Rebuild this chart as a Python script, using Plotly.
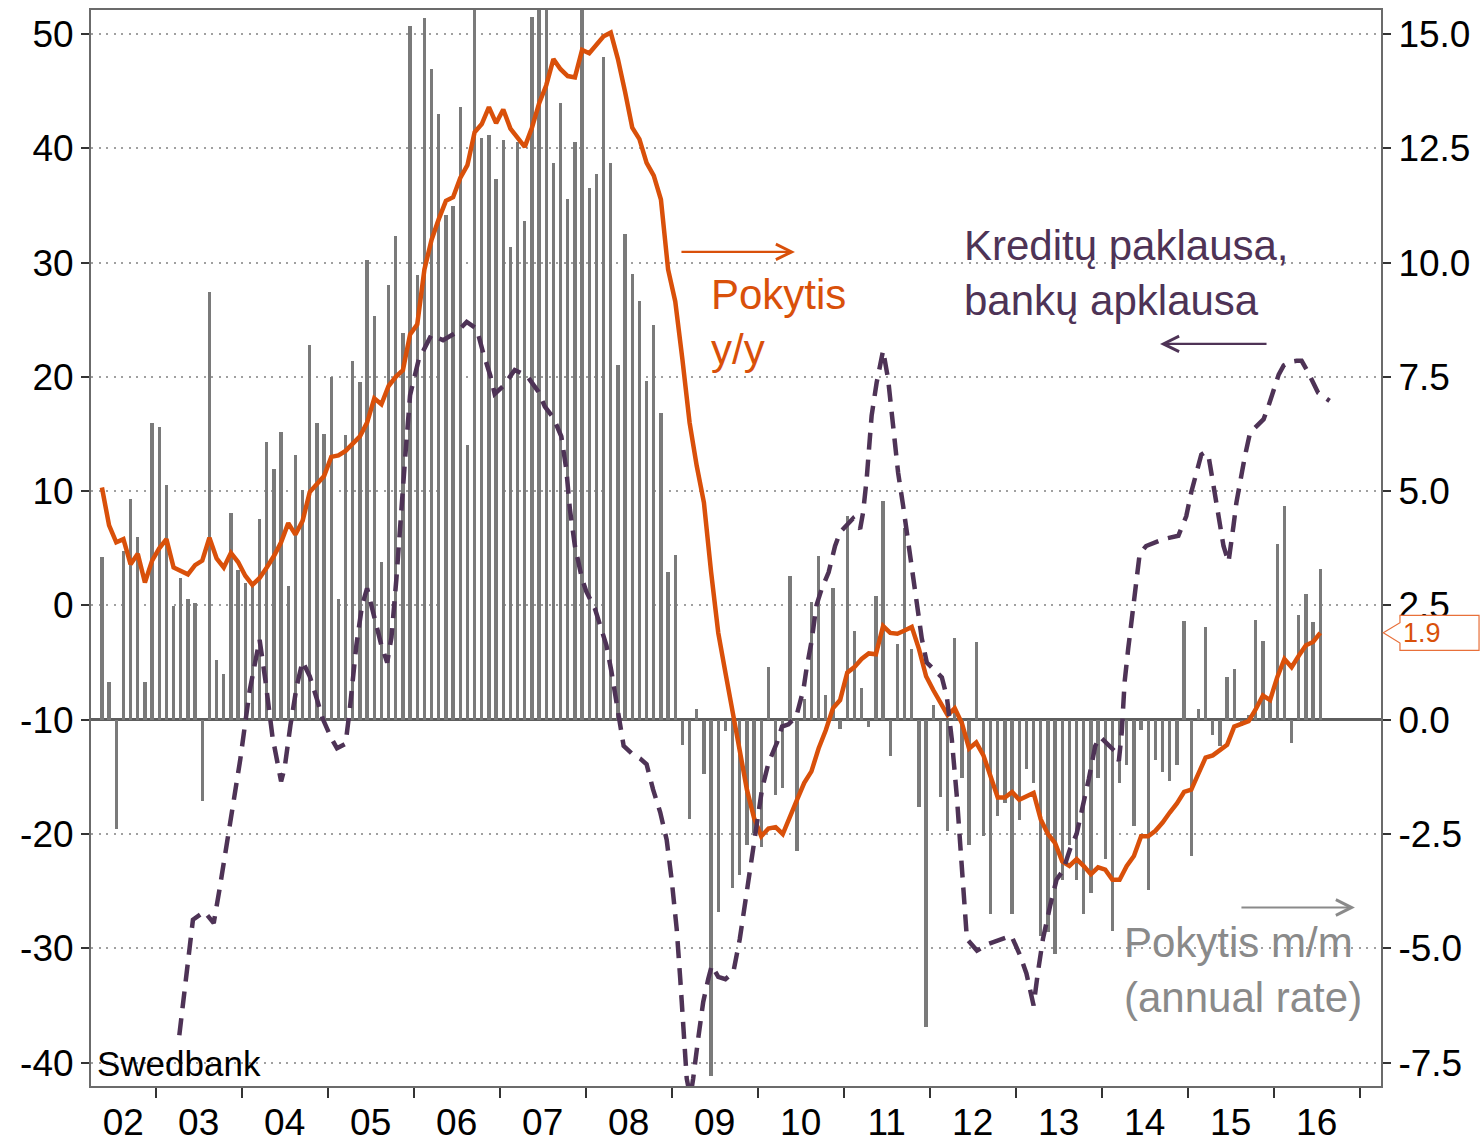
import plotly.graph_objects as go

# ---------------- data ----------------
# monthly series start in May 2002 (index 0) and end in July 2016
START_YEAR = 2002
START_MONTH = 4  # May, 0-based

# Pokytis m/m (annual rate), right axis, %
mm_rate = [
    3.55, 0.83, -2.38, 3.70, 4.83, 4.00, 0.83, 6.48, 6.40, 5.13,
    2.48, 3.10, 2.65, 2.55, -1.78, 9.35, 1.30, 1.00, 4.53, 3.28,
    3.00, 2.95, 4.40, 6.08, 5.48, 6.30, 2.93, 5.78, 5.03, 8.20,
    6.50, 6.25, 7.50, 2.63, 6.23, 7.85, 7.38, 10.05, 8.83, 3.45,
    9.50, 10.58, 8.45, 15.18, 9.73, 15.35, 14.23, 13.25, 11.05, 11.23,
    13.40, 6.00, 16.50, 12.73, 12.80, 11.83, 12.68, 10.35, 12.63, 10.90,
    15.38, 17.20, 16.00, 12.18, 13.48, 11.40, 12.63, 15.90, 11.63, 11.93,
    14.50, 12.18, 7.75, 10.63, 9.75, 9.15, 7.40, 8.63, 6.70, 3.23,
    3.60, -0.55, -2.18, 0.23, -1.18, -7.80, -4.20, -0.25, -3.68, -3.40,
    -2.73, -2.48, -2.78, 1.15, -1.65, -1.50, 3.15, -2.88, 0.45, 2.58,
    3.58, 0.55, 2.88, -0.20, 4.45, 1.95, 0.70, -0.15, 2.70, 4.78,
    -0.80, 1.65, 4.20, 1.55, -1.90, -6.73, 0.33, -1.68, -2.43, 1.78,
    -1.28, -2.75, 1.70, -2.55, -4.25, -2.10, -1.83, -4.25, -2.20, -1.08,
    -1.38, -4.73, -4.65, -5.13, -3.50, -2.75, -3.50, -4.25, -3.78, -1.28,
    -3.05, -4.63, -1.38, -0.98, -2.33, -0.23, -3.73, -0.88, -1.15, -1.35,
    -1.00, 2.15, -2.98, 0.23, 2.03, -0.33, -0.58, 0.93, 1.10, -0.13,
    0.10, 2.18, 1.73, 0.45, 3.85, 4.68, -0.50, 2.28, 2.75, 2.13,
    3.30,
]

# Pokytis y/y, right axis, %
yy_change = [
    5.08, 4.25, 3.88, 3.95, 3.40, 3.63, 3.00, 3.48, 3.75, 3.95,
    3.33, 3.25, 3.18, 3.38, 3.48, 3.98, 3.53, 3.33, 3.65, 3.45,
    3.15, 2.95, 3.10, 3.33, 3.58, 3.88, 4.30, 4.05, 4.35, 4.98,
    5.15, 5.33, 5.75, 5.78, 5.88, 6.05, 6.20, 6.50, 7.03, 6.90,
    7.30, 7.50, 7.65, 8.43, 8.65, 9.85, 10.50, 10.95, 11.35, 11.43,
    11.85, 12.13, 12.85, 13.03, 13.40, 13.05, 13.35, 12.93, 12.73, 12.53,
    12.95, 13.48, 13.88, 14.45, 14.23, 14.08, 14.05, 14.65, 14.58, 14.78,
    14.95, 15.03, 14.45, 13.73, 12.95, 12.70, 12.18, 11.90, 11.38, 9.85,
    9.15, 7.88, 6.50, 5.55, 4.75, 3.23, 1.90, 1.03, 0.15, -0.73,
    -1.53, -2.15, -2.55, -2.38, -2.35, -2.50, -2.10, -1.75, -1.38, -1.13,
    -0.63, -0.23, 0.25, 0.43, 1.03, 1.15, 1.33, 1.45, 1.43, 2.05,
    1.90, 1.88, 1.95, 2.03, 1.55, 0.95, 0.65, 0.38, 0.10, 0.25,
    -0.08, -0.63, -0.50, -0.78, -1.23, -1.70, -1.70, -1.58, -1.75, -1.68,
    -1.60, -2.18, -2.50, -2.70, -3.10, -3.20, -3.05, -3.20, -3.38, -3.23,
    -3.28, -3.50, -3.50, -3.20, -2.98, -2.55, -2.55, -2.43, -2.25, -2.03,
    -1.83, -1.58, -1.53, -1.18, -0.83, -0.78, -0.65, -0.55, -0.15, -0.08,
    -0.03, 0.23, 0.53, 0.43, 0.93, 1.33, 1.15, 1.40, 1.63, 1.70,
    1.90,
]

# Kreditų paklausa, bankų apklausa (left axis); position in months after May 2002
credit_month = [
    10.8, 12.7, 14.3, 15.6, 16.5, 17.7, 19.3, 20.6, 21.5, 22.0,
    22.8, 23.8, 25.0, 25.5, 26.3, 27.2, 28.0, 29.0, 30.0, 30.8,
    32.0, 32.8, 34.0, 34.6, 35.5, 36.3, 37.0, 38.0, 39.0, 39.8,
    40.4, 41.1, 41.6, 42.3, 43.0, 44.2, 45.1, 46.0, 47.6, 49.5,
    50.9, 52.3, 53.2, 54.2, 54.8, 56.0, 57.6, 59.3, 60.9, 61.8,
    63.0, 64.1, 64.8, 65.3, 66.0, 67.0, 67.6, 68.8, 69.5, 70.4,
    71.1, 71.6, 72.1, 72.8, 74.0, 75.1, 76.0, 76.9, 77.9, 78.8,
    79.5, 80.2, 80.7, 81.1, 81.6, 82.1, 82.5, 83.2, 83.9, 84.6,
    85.1, 86.0, 87.0, 88.1, 89.0, 89.9, 90.9, 92.1, 93.0, 94.2,
    94.9, 95.8, 96.9, 97.9, 98.3, 99.0, 99.7, 100.4, 101.4, 102.3,
    103.0, 103.9, 104.8, 105.8, 106.2, 106.7, 107.4, 108.1, 109.0, 109.7,
    110.4, 111.1, 111.8, 112.3, 113.0, 113.7, 114.4, 115.1, 116.0, 117.2,
    117.9, 118.6, 119.3, 119.7, 120.1, 120.7, 122.1, 123.8, 126.9, 128.1,
    129.0, 130.0, 130.6, 131.3, 132.3, 133.2, 134.1, 135.1, 136.0, 136.7,
    137.7, 138.6, 139.3, 141.4, 141.9, 142.3, 142.7, 143.2, 143.7, 144.4,
    144.8, 145.7, 148.1, 150.2, 151.3, 152.0, 152.8, 153.4, 153.9, 154.4,
    155.1, 155.8, 156.5, 157.2, 157.4, 157.9, 158.3, 158.8, 159.5, 160.2,
    161.2, 162.1, 162.8, 163.5, 164.2, 164.9, 165.8, 166.7, 167.4, 168.3,
    169.7, 171.3,
]
credit_demand = [
    -37.6, -27.5, -26.8, -27.8, -24.5, -20.0, -13.5, -7.5, -4.5, -3.0,
    -6.5, -11.5, -15.4, -14.2, -10.5, -7.0, -4.9, -6.2, -8.2, -9.9,
    -11.6, -12.5, -12.1, -9.0, -3.5, 0.0, 1.5, -1.0, -3.5, -5.0,
    -2.8, 2.4, 7.0, 12.8, 18.4, 21.5, 22.6, 23.7, 23.2, 23.9,
    24.8, 24.2, 22.1, 20.1, 18.5, 19.2, 20.6, 20.1, 18.7, 17.4,
    16.4, 14.8, 11.9, 8.4, 5.2, 2.3, 1.2, -0.3, -1.7, -3.5,
    -5.8, -7.6, -9.9, -12.3, -13.0, -13.4, -13.9, -16.1, -18.1, -20.5,
    -24.0, -28.3, -32.7, -37.0, -41.4, -43.0, -41.4, -37.9, -34.7, -32.7,
    -31.5, -32.5, -32.7, -32.1, -29.2, -25.4, -21.0, -16.1, -13.8, -12.0,
    -10.6, -10.4, -9.7, -7.3, -5.6, -3.2, 0.0, 1.4, 2.9, 5.2,
    6.4, 7.0, 7.6, 6.7, 8.1, 11.0, 16.6, 19.5, 22.3, 19.8,
    15.7, 11.6, 8.7, 6.4, 3.5, 0.6, -2.9, -5.0, -5.6, -6.3,
    -8.0, -11.8, -16.8, -20.7, -24.5, -29.2, -30.2, -29.6, -28.9, -30.6,
    -32.2, -35.0, -32.1, -29.2, -26.3, -24.0, -23.2, -21.3, -20.0, -18.1,
    -15.2, -12.3, -11.5, -12.8, -13.6, -11.1, -6.7, -3.8, -1.2, 2.3,
    4.5, 5.2, 5.8, 6.1, 7.8, 9.9, 11.9, 13.2, 13.4, 13.1,
    10.5, 7.8, 5.2, 3.8, 4.6, 7.0, 9.0, 10.8, 13.1, 15.1,
    15.7, 16.3, 17.5, 18.9, 20.2, 21.0, 21.3, 21.4, 21.4, 20.4,
    18.6, 17.9,
]

year_labels = ["02", "03", "04", "05", "06", "07", "08", "09",
               "10", "11", "12", "13", "14", "15", "16"]
left_ticks = [-40, -30, -20, -10, 0, 10, 20, 30, 40, 50]
left_ticktext = ["-40", "-30", "-20", "-10", "0", "10", "20", "30", "40", "50"]
right_ticks = [-7.5, -5.0, -2.5, 0.0, 2.5, 5.0, 7.5, 10.0, 12.5, 15.0]
right_ticktext = ["-7.5", "-5.0", "-2.5", "0.0", "2.5", "5.0", "7.5", "10.0", "12.5", "15.0"]

# ---------------- styling ----------------
ORANGE = "#D9500A"
PURPLE = "#4E3356"
GREY_BAR = "#7A7A7A"
GREY_TXT = "#8A8A8A"
FONT = "Liberation Sans, Arial, sans-serif"

X_RANGE = [2002.248, 2017.248]
LEFT_RANGE = [-42.05, 52.1]
RIGHT_RANGE = [(LEFT_RANGE[0] + 10) / 4, (LEFT_RANGE[1] + 10) / 4]


def month_to_year(m):
    return START_YEAR + (START_MONTH + m + 0.5) / 12.0


x_months = [month_to_year(i) for i in range(len(mm_rate))]
x_credit = [month_to_year(m) for m in credit_month]

year_pos = [(X_RANGE[0] + 2003) / 2] + [y + 0.5 for y in range(2003, 2017)]
year_bounds = list(range(2003, 2018))

fig = go.Figure()

fig.add_trace(go.Bar(
    x=x_months, y=mm_rate, yaxis="y", width=0.038,
    marker=dict(color=GREY_BAR, line=dict(width=0)),
    showlegend=False, hoverinfo="skip",
))
fig.add_trace(go.Scatter(
    x=x_months, y=yy_change, yaxis="y", mode="lines",
    line=dict(color=ORANGE, width=4.5),
    showlegend=False, hoverinfo="skip",
))
fig.add_trace(go.Scatter(
    x=x_credit, y=credit_demand, yaxis="y2", mode="lines",
    line=dict(color=PURPLE, width=4.5, dash="17px,10px"),
    showlegend=False, hoverinfo="skip",
))

axis_line = dict(showline=True, linecolor="#6B6B6B", linewidth=2, automargin=False)
tickfont = dict(family=FONT, size=37, color="black")

W, H = 1482, 1140
PLOT_L, PLOT_R, PLOT_T, PLOT_B = 91, 1381, 10, 1086

fig.update_layout(
    width=W, height=H,
    margin=dict(l=PLOT_L, r=W - PLOT_R, t=PLOT_T, b=H - PLOT_B, autoexpand=False),
    paper_bgcolor="white", plot_bgcolor="white",
    bargap=0,
    xaxis=dict(
        range=X_RANGE, tickmode="array", tickvals=year_pos, ticktext=year_labels,
        ticks="outside", ticklen=3, tickcolor="rgba(0,0,0,0)",
        tickfont=tickfont, showgrid=False, zeroline=False, mirror=True,
        minor=dict(tickmode="array", tickvals=year_bounds, ticks="outside",
                   ticklen=10, tickwidth=1.5, tickcolor="#333333", showgrid=False),
        **axis_line,
    ),
    yaxis=dict(
        side="right", range=RIGHT_RANGE, tickmode="array",
        tickvals=right_ticks, ticktext=right_ticktext,
        ticks="outside", ticklen=8, tickwidth=2, tickcolor="#333333",
        tickfont=tickfont, showgrid=False,
        zeroline=True, zerolinecolor="#5E5E5E", zerolinewidth=2.5,
        **axis_line,
    ),
    yaxis2=dict(
        side="left", overlaying="y", range=LEFT_RANGE, tickmode="array",
        tickvals=left_ticks, ticktext=left_ticktext,
        ticks="outside", ticklen=8, tickwidth=2, tickcolor="#333333",
        tickfont=tickfont, showgrid=True, gridcolor="#A0A0A0",
        gridwidth=1.5, griddash="2px,5.5px", zeroline=False,
        **axis_line,
    ),
)

# ---------------- annotations ----------------
ann_font = dict(family=FONT, size=42)
annotations = [
    dict(x=0.479, y=0.710, xref="paper", yref="paper", xanchor="left", yanchor="middle",
         text="Pokytis<br>y/y", showarrow=False, align="left",
         font=dict(ann_font, color=ORANGE)),
    dict(x=0.6752, y=0.7557, xref="paper", yref="paper", xanchor="left", yanchor="middle",
         text="Kreditų paklausa,<br>bankų apklausa", showarrow=False, align="left",
         font=dict(ann_font, color=PURPLE)),
    dict(x=0.7992, y=0.1082, xref="paper", yref="paper", xanchor="left", yanchor="middle",
         text="Pokytis m/m<br>(annual rate)", showarrow=False, align="left",
         font=dict(ann_font, color=GREY_TXT)),
    dict(x=0.0031, y=0.0209, xref="paper", yref="paper", xanchor="left", yanchor="middle",
         text="Swedbank", showarrow=False, font=dict(family=FONT, size=35, color="black")),
    # arrows
    dict(x=0.5457, y=0.7752, xref="paper", yref="paper", text="", showarrow=True,
         ax=-115, ay=0, arrowhead=5, arrowsize=1.4, arrowwidth=2.2, arrowcolor=ORANGE),
    dict(x=0.8287, y=0.6897, xref="paper", yref="paper", text="", showarrow=True,
         ax=108, ay=0, arrowhead=5, arrowsize=1.4, arrowwidth=2.2, arrowcolor=PURPLE),
    dict(x=0.9798, y=0.1659, xref="paper", yref="paper", text="", showarrow=True,
         ax=-115, ay=0, arrowhead=5, arrowsize=1.4, arrowwidth=2.2, arrowcolor=GREY_TXT),
]

# last-value callout on the right axis
last = yy_change[-1]
px_per_unit = (PLOT_B - PLOT_T) / (RIGHT_RANGE[1] - RIGHT_RANGE[0])
h_box = 17.5 / px_per_unit
h_sh = 10.2 / px_per_unit
x_tip, x_sh, x_end = 1.0018, 1.0147, 1.0760
path = (f"M {x_tip},{last} L {x_sh},{last + h_sh} L {x_sh},{last + h_box} "
        f"L {x_end},{last + h_box} L {x_end},{last - h_box} L {x_sh},{last - h_box} "
        f"L {x_sh},{last - h_sh} Z")
fig.add_shape(type="path", path=path, xref="paper", yref="y",
              line=dict(color="#E8703A", width=1.2), fillcolor="white", layer="above")
annotations.append(dict(x=1.0314, y=last, xref="paper", yref="y", text=f"{last:.1f}",
                        showarrow=False, xanchor="center", yanchor="middle",
                        font=dict(family=FONT, size=27, color=ORANGE)))

fig.update_layout(annotations=annotations)

fig.write_html(
    "out.html",
    config={"displayModeBar": False},
    post_script="document.body.style.margin='0';document.body.style.overflow='hidden';",
)
